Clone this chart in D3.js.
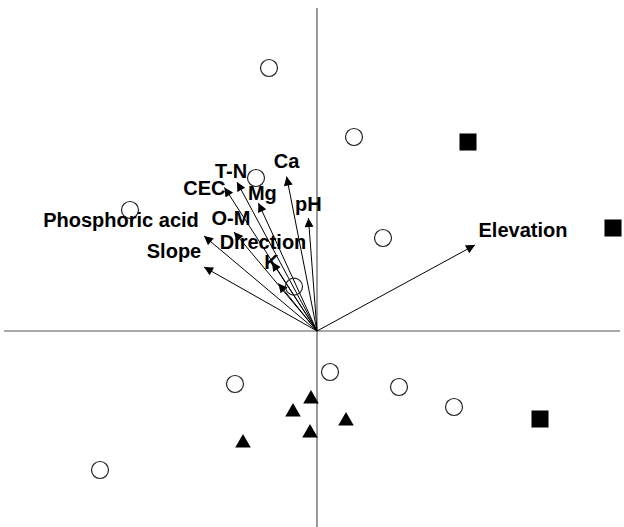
<!DOCTYPE html>
<html>
<head>
<meta charset="utf-8">
<script src="https://cdn.jsdelivr.net/npm/d3@7"></script>
<style>
  body { margin: 0; background: #fff; }
  svg { display: block; }
</style>
</head>
<body>
<div id="chart"></div>
<script>

// site scores (axis 1, axis 2)
const openSites = [
	[-0.240, 1.315], [0.185, 0.970], [-0.305, 0.765], [-0.935, 0.605],
	[0.330, 0.465], [-0.115, 0.222], [-0.410, -0.265], [0.065, -0.205],
	[0.410, -0.280], [0.685, -0.380], [-1.085, -0.695]
]
const squareSites = [ [0.755, 0.945], [1.480, 0.515], [1.115, -0.440] ]
const triangleSites = [
	[-0.030, -0.340], [-0.120, -0.405], [0.145, -0.450], [-0.035, -0.510], [-0.370, -0.560]
]

// environmental variables (biplot arrows)
const envNames = [ "Ca", "pH", "Mg", "T-N", "CEC", "O-M", "Phosphoric acid", "Slope", "Direction", "K", "Elevation" ]
const envX = [ -0.152, -0.043, -0.293, -0.400, -0.463, -0.415, -0.565, -0.565, -0.225, -0.193, 0.790 ]
const envY = [  0.772,  0.565,  0.640,  0.745,  0.718,  0.495,  0.475,  0.320,  0.345,  0.238, 0.430 ]

// axis extents in score units
const xAxisExtent = [ -1.565, 1.515 ]
const yAxisExtent = [ -0.98, 1.615 ]

// label nudges in pixels (centre x, baseline y relative to arrow tip)
const labelNudge = [
	[0, -9], [0, -7], [4, -3], [-6, -4], [-20, 8], [-3, -7],
	[-83, -9], [-30, -9], [-9, -13], [-7, -14], [48, -8]
]

const width = 624
const height = 527

const x = d3.scaleLinear().domain([-1.5, 1.5]).range([17, 617])
const y = d3.scaleLinear().domain([-1.5, 1.5]).range([631, 31])

const svg = d3.select("#chart").append("svg")
	.attr("width", width)
	.attr("height", height)

svg.append("defs").append("marker")
	.attr("id", "head")
	.attr("viewBox", "0 0 10 10")
	.attr("refX", 10)
	.attr("refY", 5)
	.attr("markerUnits", "userSpaceOnUse")
	.attr("markerWidth", 12)
	.attr("markerHeight", 9)
	.attr("orient", "auto")
	.append("path")
		.attr("d", "M0,0 L10,5 L0,10 Z")
		.attr("fill", "#000")

// axes through the origin
svg.append("line")
	.attr("x1", x(xAxisExtent[0])).attr("x2", x(xAxisExtent[1]))
	.attr("y1", y(0)).attr("y2", y(0))
	.attr("stroke", "#555").attr("stroke-width", 1.2)
svg.append("line")
	.attr("x1", x(0)).attr("x2", x(0))
	.attr("y1", y(yAxisExtent[1])).attr("y2", y(yAxisExtent[0]))
	.attr("stroke", "#555").attr("stroke-width", 1.2)

// arrows
const envData = envNames.map(function(n, i) { return { name: n, x: envX[i], y: envY[i], nudge: labelNudge[i] } })

svg.append("g").selectAll("line")
	.data(envData)
	.enter().append("line")
		.attr("x1", x(0)).attr("y1", y(0))
		.attr("x2", function(d) { return x(d.x) })
		.attr("y2", function(d) { return y(d.y) })
		.attr("stroke", "#000")
		.attr("stroke-width", 1)
		.attr("marker-end", "url(#head)")

// sites
svg.append("g").selectAll("circle")
	.data(openSites)
	.enter().append("circle")
		.attr("cx", function(d) { return x(d[0]) })
		.attr("cy", function(d) { return y(d[1]) })
		.attr("r", 8.5)
		.attr("fill", "none")
		.attr("stroke", "#222")
		.attr("stroke-width", 1.2)

svg.append("g").selectAll("path")
	.data(squareSites)
	.enter().append("path")
		.attr("d", d3.symbol().type(d3.symbolSquare).size(290))
		.attr("transform", function(d) { return "translate(" + x(d[0]) + "," + y(d[1]) + ")" })
		.attr("fill", "#000")

svg.append("g").selectAll("path")
	.data(triangleSites)
	.enter().append("path")
		.attr("d", d3.symbol().type(d3.symbolTriangle).size(105))
		.attr("transform", function(d) { return "translate(" + x(d[0]) + "," + y(d[1]) + ")" })
		.attr("fill", "#000")

// labels
svg.append("g").selectAll("text")
	.data(envData)
	.enter().append("text")
		.attr("x", function(d) { return x(d.x) + d.nudge[0] })
		.attr("y", function(d) { return y(d.y) + d.nudge[1] })
		.attr("text-anchor", "middle")
		.attr("font-family", "Liberation Sans, Arial, sans-serif")
		.attr("font-weight", "bold")
		.attr("font-size", 20)
		.attr("fill", "#000")
		.text(function(d) { return d.name })

</script>
</body>
</html>
